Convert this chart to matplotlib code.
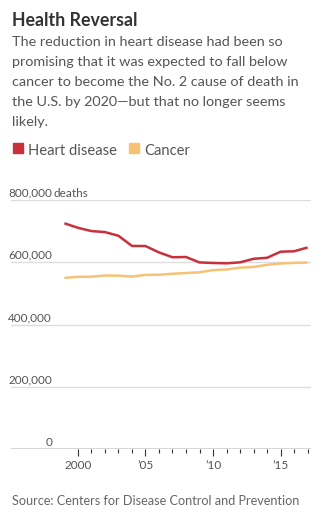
import matplotlib
matplotlib.use("Agg")
import matplotlib.pyplot as plt
from matplotlib.patches import Rectangle
import matplotlib.transforms as mtransforms

years = list(range(1999, 2018))
heart = [725192, 710760, 700142, 696947, 685089, 652486, 652091, 631636, 616067,
         616828, 599413, 597689, 596577, 599711, 611105, 614348, 633842, 635260, 647457]
cancer = [549838, 553091, 553768, 557271, 556902, 553888, 559312, 559888, 562875,
          565469, 567628, 574743, 576691, 582623, 584881, 591699, 595930, 598038, 599108]
ytick_vals = [0, 200000, 400000, 600000, 800000]
ytick_labels = ["0", "200,000", "400,000", "600,000", "800,000"]
xtick_vals = [2000, 2005, 2010, 2015]
xtick_labels = ["2000", "\u201905", "\u201910", "\u201915"]

RED = "#c8303a"
ORANGE = "#f6c275"
TXT = "#555555"
FONT = "Lato"

W, H = 323, 516
fig = plt.figure(figsize=(W / 100, H / 100), dpi=100)

def fx(px):
    return px / W

def fy(py):
    return 1 - py / H

# Title and subtitle
fig.text(fx(12), fy(26), "Health Reversal", fontsize=12.8, fontweight="bold",
         color="#333333", family=FONT, va="baseline")
sub = ["The reduction in heart disease had been so",
       "promising that it was expected to fall below",
       "cancer to become the No. 2 cause of death in",
       "the U.S. by 2020\u2014but that no longer seems",
       "likely."]
for i, line in enumerate(sub):
    fig.text(fx(12), fy(46 + 20 * i), line, fontsize=10.4, color=TXT,
             family=FONT, va="baseline")

# Legend
fig.patches.append(Rectangle((fx(13), fy(153)), fx(10), 10 / H, color=RED,
                             transform=fig.transFigure, figure=fig))
fig.text(fx(28), fy(155), "Heart disease", fontsize=10.6, color=TXT, family=FONT, va="baseline")
fig.patches.append(Rectangle((fx(129), fy(153)), fx(10), 10 / H, color=ORANGE,
                             transform=fig.transFigure, figure=fig))
fig.text(fx(144), fy(155), "Cancer", fontsize=10.6, color=TXT, family=FONT, va="baseline")

# Axes
ax_left, ax_right = 11, 311
ax_top, ax_bottom = 200, 449
ax = fig.add_axes([fx(ax_left), fy(ax_bottom), fx(ax_right - ax_left), (ax_bottom - ax_top) / H])
ax.set_ylim(0, 800000)
ax.set_xlim(1995.05, 2017.25)

for v in ytick_vals[1:]:
    ax.axhline(v, color="#dddddd", lw=1.0, zorder=1)
ax.axhline(0, color="#333333", lw=1.0, zorder=3)

ax.plot(years, cancer, color=ORANGE, lw=1.8, zorder=4, solid_capstyle="butt")
ax.plot(years, heart, color=RED, lw=1.8, zorder=5, solid_capstyle="butt")

for s in ax.spines.values():
    s.set_visible(False)
ax.set_yticks([])
ax.set_xticks(xtick_vals)
ax.set_xticklabels(xtick_labels, fontsize=8.5, color=TXT, family=FONT)
ax.set_xticks(list(range(2000, 2018)), minor=True)
ax.tick_params(axis="x", which="major", length=5, width=0.8, color="#333333", pad=3)
ax.tick_params(axis="x", which="minor", length=3, width=0.8, color="#333333")
ax.patch.set_alpha(0)

# y labels
trans = mtransforms.blended_transform_factory(fig.transFigure, ax.transData)
label_x = fx(52)
offset = mtransforms.ScaledTranslation(0, 2.5 / 72, fig.dpi_scale_trans)
for v, lab in zip(ytick_vals, ytick_labels):
    fig.text(label_x, v, lab, transform=trans + offset, ha="right", va="baseline",
             fontsize=8.5, color=TXT, family=FONT)
fig.text(label_x + fx(1), ytick_vals[-1], "deaths", transform=trans + offset, ha="left",
         va="baseline", fontsize=8.5, color=TXT, family=FONT)

fig.text(fx(12), fy(505), "Source: Centers for Disease Control and Prevention",
         fontsize=9.1, color="#666666", family=FONT, va="baseline")

fig.savefig("out.png", dpi=100)
